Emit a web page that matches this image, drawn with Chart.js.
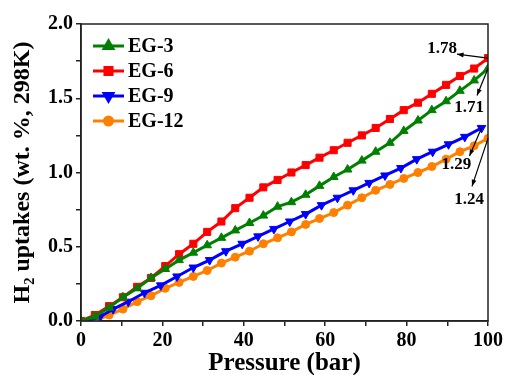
<!DOCTYPE html>
<html>
<head>
<meta charset="utf-8">
<script src="https://cdn.jsdelivr.net/npm/chart.js@4.4.1/dist/chart.umd.min.js"></script>
<style>
  html, body { margin: 0; padding: 0; background: #fff; }
  #wrap { width: 506px; height: 375px; }
</style>
</head>
<body>
<div id="wrap"><canvas id="chart-h2"></canvas></div>
<script>
// pressures (bar)
const pressureA = [0, 3.4, 6.9, 10.3, 13.8, 17.2, 20.7, 24.1, 27.6, 31.0, 34.5, 37.9, 41.4, 44.8, 48.3,
                   51.7, 55.2, 58.6, 62.1, 65.5, 69.0, 72.4, 75.9, 79.3, 82.8, 86.2, 89.7, 93.1, 96.6, 100];
const pressureB = [0, 2.0, 4.7, 7.9, 11.6, 15.6, 19.6, 23.6, 27.6, 31.6, 35.6, 39.6, 43.5, 47.4,
                   51.3, 55.2, 59.1, 63.0, 66.9, 70.8, 74.7, 78.6, 82.5, 86.4, 90.3, 94.3, 98.4];

// H2 uptake (wt. %)
const eg3  = [0, 0.03, 0.09, 0.16, 0.22, 0.29, 0.35, 0.41, 0.46, 0.51, 0.56, 0.61, 0.66, 0.71, 0.77,
              0.80, 0.85, 0.91, 0.97, 1.02, 1.08, 1.14, 1.20, 1.28, 1.35, 1.42, 1.48, 1.55, 1.62, 1.70];
const eg6  = [0, 0.04, 0.10, 0.16, 0.23, 0.29, 0.37, 0.45, 0.52, 0.60, 0.67, 0.76, 0.83, 0.90, 0.95,
              1.00, 1.05, 1.10, 1.15, 1.20, 1.25, 1.30, 1.36, 1.42, 1.47, 1.53, 1.59, 1.65, 1.70, 1.77];
const eg9  = [0, 0.0, 0.03, 0.08, 0.13, 0.19, 0.24, 0.30, 0.36, 0.41, 0.47, 0.52, 0.57, 0.62,
              0.67, 0.72, 0.78, 0.83, 0.88, 0.93, 0.98, 1.03, 1.09, 1.14, 1.19, 1.24, 1.30];
const eg12 = [0, 0.0, 0.04, 0.08, 0.13, 0.17, 0.22, 0.26, 0.30, 0.34, 0.39, 0.43, 0.47, 0.52, 0.56,
              0.60, 0.65, 0.69, 0.73, 0.78, 0.83, 0.88, 0.92, 0.96, 1.00, 1.04, 1.09, 1.14, 1.18, 1.23];

const seriesNames = ['EG-3', 'EG-6', 'EG-9', 'EG-12'];
const endLabels = ['1.71', '1.78', '1.29', '1.24'];

const serif = "'Liberation Serif', 'Times New Roman', serif";

function pts(xs, ys) {
    return xs.map((x, i) => ({ x: x, y: ys[i] }));
}

// box around the plot
const framePlugin = {
    id: 'frame',
    afterDraw(chart) {
        const { ctx, chartArea: a } = chart;
        ctx.save();
        ctx.strokeStyle = '#222';
        ctx.lineWidth = 1.5;
        ctx.strokeRect(a.left, a.top, a.right - a.left, a.bottom - a.top);
        ctx.restore();
    },
};

// legend in the top-left corner
const legendPlugin = {
    id: 'innerLegend',
    afterDraw(chart) {
        const { ctx, chartArea: a } = chart;
        ctx.save();
        chart.data.datasets.forEach((ds, i) => {
            const y = a.top + 22 + i * 25;
            const x0 = a.left + 12, x1 = a.left + 43;
            ctx.strokeStyle = ds.borderColor;
            ctx.lineWidth = 3;
            ctx.beginPath();
            ctx.moveTo(x0, y);
            ctx.lineTo(x1, y);
            ctx.stroke();
            ctx.fillStyle = ds.borderColor;
            Chart.helpers.drawPoint(ctx, {
                pointStyle: ds.pointStyle, rotation: ds.pointRotation || 0,
                radius: ds.pointRadius, borderWidth: 1,
            }, (x0 + x1) / 2, y);
            ctx.fillStyle = '#000';
            ctx.font = 'bold 20px ' + serif;
            ctx.textBaseline = 'middle';
            ctx.fillText(seriesNames[i], a.left + 47, y + 1);
        });
        ctx.restore();
    },
};

// end value labels with arrows (pixel offsets from the last point)
const arrowOffsets = [
    { lx: -19, ly: 39, tx: -11, ty: 27 },   // EG-3
    { lx: -46, ly: -10, tx: -31, ty: -4 },  // EG-6
    { lx: -25, ly: 37, tx: -12, ty: 28 },   // EG-9
    { lx: -19, ly: 61, tx: -16, ty: 48 },   // EG-12
];
const arrowPlugin = {
    id: 'endArrows',
    afterDraw(chart) {
        const { ctx } = chart;
        const xs = chart.scales.x, ys = chart.scales.y;
        ctx.save();
        chart.data.datasets.forEach((ds, i) => {
            const last = ds.data[ds.data.length - 1];
            const px = xs.getPixelForValue(last.x), py = ys.getPixelForValue(last.y);
            const o = arrowOffsets[i];
            const tx = px + o.tx, ty = py + o.ty;
            ctx.strokeStyle = '#000';
            ctx.fillStyle = '#000';
            ctx.lineWidth = 1.2;
            ctx.beginPath();
            ctx.moveTo(px, py);
            ctx.lineTo(tx, ty);
            ctx.stroke();
            const ang = Math.atan2(ty - py, tx - px);
            ctx.beginPath();
            ctx.moveTo(tx, ty);
            ctx.lineTo(tx - 7 * Math.cos(ang - 0.35), ty - 7 * Math.sin(ang - 0.35));
            ctx.lineTo(tx - 7 * Math.cos(ang + 0.35), ty - 7 * Math.sin(ang + 0.35));
            ctx.closePath();
            ctx.fill();
            ctx.font = 'bold 17px ' + serif;
            ctx.textAlign = 'center';
            ctx.textBaseline = 'middle';
            ctx.fillText(endLabels[i], px + o.lx, py + o.ly);
        });
        ctx.restore();
    },
};

new Chart(document.getElementById('chart-h2'), {
    type: 'line',
    data: {
        datasets: [
            {
                label: 'EG-3',
                data: pts(pressureA, eg3),
                borderColor: '#008000',
                backgroundColor: '#008000',
                pointStyle: 'triangle',
                pointRadius: 5,
            },
            {
                label: 'EG-6',
                data: pts(pressureA, eg6),
                borderColor: '#ff0000',
                backgroundColor: '#ff0000',
                pointStyle: 'rect',
                pointRadius: 5,
            },
            {
                label: 'EG-9',
                data: pts(pressureB, eg9),
                borderColor: '#0000ff',
                backgroundColor: '#0000ff',
                pointStyle: 'triangle',
                pointRotation: 180,
                pointRadius: 5,
            },
            {
                label: 'EG-12',
                data: pts(pressureA, eg12),
                borderColor: '#ff8000',
                backgroundColor: '#ff8000',
                pointStyle: 'circle',
                pointRadius: 4,
            },
        ],
    },
    options: {
        responsive: true,
        maintainAspectRatio: false,
        animation: false,
        layout: { padding: { top: 24, right: 18, left: 0, bottom: 0 } },
        elements: {
            line: { borderWidth: 3, tension: 0 },
            point: { borderWidth: 1, hoverRadius: 5 },
        },
        plugins: {
            legend: { display: false },
            tooltip: { enabled: false },
        },
        scales: {
            x: {
                type: 'linear',
                min: 0,
                max: 100,
                afterFit: s => { s.height = 54; },
                grid: { drawOnChartArea: false, drawTicks: true, tickLength: 5, color: '#222', lineWidth: 1.5 },
                border: { color: '#222', width: 1.5 },
                ticks: {
                    stepSize: 10,
                    autoSkip: false,
                    maxRotation: 0,
                    padding: 3,
                    color: '#000',
                    font: { family: serif, size: 20, weight: 'bold' },
                    callback: v => (v % 20 === 0 ? v : ''),
                },
                title: {
                    display: true,
                    text: 'Pressure (bar)',
                    color: '#000',
                    padding: { top: 0, bottom: 0 },
                    font: { family: serif, size: 25, weight: 'bold', lineHeight: 0.9 },
                },
            },
            y: {
                min: 0,
                max: 2,
                afterFit: s => { s.width = 81; },
                grid: { drawOnChartArea: false, drawTicks: true, tickLength: 5, color: '#222', lineWidth: 1.5 },
                border: { color: '#222', width: 1.5 },
                ticks: {
                    stepSize: 0.25,
                    autoSkip: false,
                    padding: 3,
                    color: '#000',
                    font: { family: serif, size: 20, weight: 'bold' },
                    callback: v => (Math.abs(v * 2 - Math.round(v * 2)) < 1e-6 ? v.toFixed(1) : ''),
                },
                title: {
                    display: true,
                    text: 'H\u2082 uptakes (wt. %, 298K)',
                    color: '#000',
                    padding: { top: 8, bottom: 0 },
                    font: { family: serif, size: 24, weight: 'bold' },
                },
            },
        },
    },
    plugins: [framePlugin, legendPlugin, arrowPlugin],
});
</script>
</body>
</html>
